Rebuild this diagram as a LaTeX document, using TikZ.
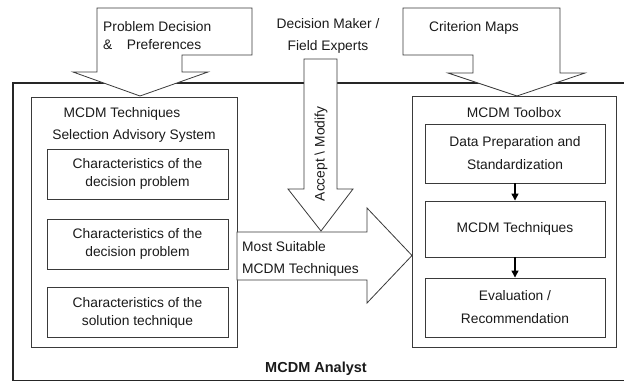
\documentclass[tikz,border=0pt]{standalone}
\usepackage{fontspec}
\setmainfont{Liberation Sans}
\usetikzlibrary{arrows.meta}
\definecolor{ln}{HTML}{3A3A3A}
\definecolor{tx}{HTML}{1A1A1A}
\tikzset{
  lbox/.style={draw=ln, line width=0.9pt, minimum width=181pt, minimum height=50pt, align=center, text=tx, inner sep=0pt,
    font=\fontsize{13.8}{18}\selectfont},
  rbox/.style={draw=ln, line width=0.9pt, minimum width=180pt, align=center, text=tx, inner sep=0pt,
    font=\fontsize{13.8}{23}\selectfont},
  lbl/.style={text=tx, inner sep=0pt, font=\fontsize{13.8}{18}\selectfont},
  panel/.style={draw=ln, line width=0.9pt},
  bigarrow/.style={draw=ln, line width=0.8pt, fill=white, line join=miter},
  flow/.style={draw=black, line width=1.3pt, -{Triangle[length=7pt,width=7pt]}}
}
\begin{document}
\begin{tikzpicture}[x=1pt,y=-1pt]
\useasboundingbox (0,0) rectangle (624,382);
% outer MCDM analyst frame (right edge beyond the picture)
\draw[draw=black!85, line width=1.2pt] (625,83) -- (13,83) -- (13,380.5) -- (625,380.5);
% panels
\draw[panel] (31,97) rectangle (237,347);
\draw[panel] (412,96) rectangle (616,347);
% callout arrows from the top
\draw[bigarrow] (97,8) -- (252,8) -- (252,55) -- (182,55) -- (182,72) -- (208,72) -- (140,96) -- (73,72) -- (97,72) -- cycle;
\draw[bigarrow] (403,8) -- (560,8) -- (560,73) -- (585,73) -- (517,96) -- (448,73) -- (473,73) -- (473,55) -- (403,55) -- cycle;
% big right arrow
\draw[bigarrow] (237,232) -- (367,232) -- (367,208) -- (412,255.5) -- (367,303) -- (367,280) -- (237,280) -- cycle;
% accept / modify arrow
\draw[bigarrow] (304,59) -- (337,59) -- (337,189) -- (353,189) -- (321,231) -- (288,189) -- (304,189) -- cycle;
% texts of callouts
\node[lbl, anchor=west, align=left] (pd) at (103,36) {Problem Decision\\\&\hspace{1.05em}Preferences};
\node[lbl, align=center, font=\fontsize{13.8}{22}\selectfont] (dm) at (328,36) {Decision Maker /\\Field Experts};
\node[lbl] (cm) at (474,28) {Criterion Maps};
\node[lbl, rotate=90] (am) at (321,154) {Accept \textbackslash\ Modify};
\node[lbl, anchor=west, align=left, font=\fontsize{13.8}{22}\selectfont] (ms) at (242,259) {Most Suitable\\MCDM Techniques};
% left panel
\node[lbl] (t1) at (122,114) {MCDM Techniques};
\node[lbl] (t2) at (134,136) {Selection Advisory System};
\node[lbox] (c1) at (137.5,174) {Characteristics of the\\decision problem};
\node[lbox] (c2) at (137.5,244) {Characteristics of the\\decision problem};
\node[lbox] (c3) at (137.5,312.5) {Characteristics of the\\solution technique};
% right panel
\node[lbl] (t3) at (514,113) {MCDM Toolbox};
\node[rbox, minimum height=59pt] (dp) at (515,153.5) {Data Preparation and\\Standardization};
\node[rbox, minimum height=56pt] (mt) at (515,229) {MCDM Techniques};
\node[rbox, minimum height=59pt] (ev) at (515,307.5) {Evaluation /\\Recommendation};
\draw[flow] (dp) -- (mt);
\draw[flow] (mt) -- (ev);
% analyst label
\node[lbl, font=\fontsize{14.5}{18}\selectfont\bfseries] (an) at (316,369) {MCDM Analyst};
\end{tikzpicture}
\end{document}
